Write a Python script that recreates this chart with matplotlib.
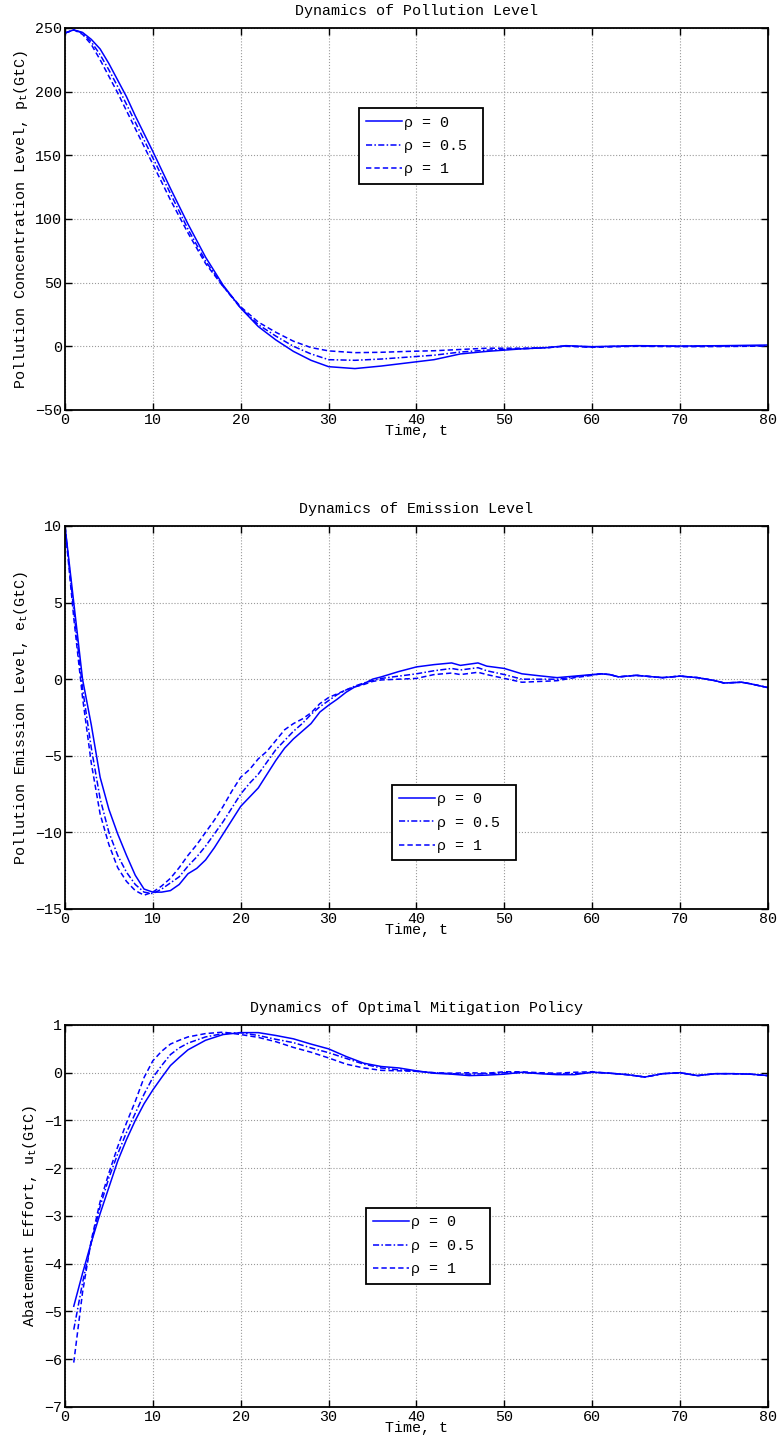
import numpy as np
import matplotlib
matplotlib.use('Agg')
import matplotlib.pyplot as plt

plt.rcParams['font.family'] = ['Liberation Mono', 'DejaVu Sans Mono']
plt.rcParams['mathtext.fontset'] = 'custom'
plt.rcParams['mathtext.rm'] = 'Liberation Mono'
plt.rcParams['mathtext.it'] = 'Liberation Mono'
plt.rcParams['font.size'] = 10.8

labels = ['ρ = 0 ', 'ρ = 0.5 ', 'ρ = 1 ']

# pollution level p_t
poll_t = [0, 1, 2, 3, 4, 5, 6, 7, 8, 9, 10, 12, 14, 16, 18, 20, 22, 24, 26, 28, 30,
          33, 36, 39, 42, 45, 48, 52, 55, 57, 60, 65, 70, 75, 80]
poll_r0 = [246, 248.5, 246.5, 241, 233.5, 222, 209, 196, 181, 167, 153, 124, 96, 70, 48, 30, 15.5, 5, -4, -11, -16,
           -17.5, -15.5, -13, -10.5, -6, -4, -2, -1, 0.5, -0.3, 0.5, 0.2, 0.5, 1]
poll_r05 = [246, 248.5, 246, 239, 229, 217, 204, 190, 176, 162, 148, 120, 92, 67, 47, 30, 17, 8, 0, -6, -10.5,
            -11, -10, -8.5, -7, -4.5, -3, -2, -1, 0.3, -0.5, 0.3, 0, 0.2, 0.5]
poll_r1 = [246, 248.5, 245, 237, 225, 212, 199, 185, 171, 157, 143, 115, 89, 65, 47, 31, 19, 11, 4, -1, -3.6,
           -5, -4.7, -4, -3.5, -2.5, -1.5, -1.5, -1, 0, -0.8, 0, -0.3, -0.2, 0.2]

# emission level e_t
emis_t = list(range(0, 37)) + [38, 40, 42, 44, 45, 47, 48, 50, 52, 54, 56, 58, 60,
                               61, 62, 63, 64, 65, 66, 68, 70, 72, 74, 75, 77, 78, 80]
emis_tail = [0.35, 0.3, 0.15, 0.2, 0.25, 0.2, 0.1, 0.2, 0.1, -0.1, -0.25, -0.2, -0.3, -0.55]
emis_r0 = [10, 5, 0, -3, -6.4, -8.5, -10.1, -11.5, -12.8, -13.7, -13.9, -13.9, -13.8, -13.4, -12.7, -12.35,
           -11.8, -11.0, -10.1, -9.2, -8.3, -7.7, -7.1, -6.2, -5.3, -4.5, -3.9, -3.4, -2.9, -2.15, -1.7,
           -1.3, -0.85, -0.5, -0.3, 0.0, 0.15,
           0.5, 0.8, 0.95, 1.06, 0.9, 1.06, 0.85, 0.7, 0.35, 0.22, 0.1, 0.2, 0.3] + emis_tail
emis_r05 = [10, 4.5, -0.6, -4.5, -7.8, -10.0, -11.5, -12.6, -13.4, -13.9, -14.0, -13.7, -13.3, -12.9, -12.2, -11.6,
            -10.9, -10.1, -9.3, -8.4, -7.5, -6.8, -6.2, -5.4, -4.6, -4.0, -3.4, -2.9, -2.3, -1.8, -1.4,
            -1.0, -0.7, -0.45, -0.25, -0.1, 0.05,
            0.2, 0.35, 0.55, 0.7, 0.6, 0.75, 0.55, 0.3, 0.0, 0.0, 0.0, 0.15, 0.28] + emis_tail
emis_r1 = [10, 4.0, -1.2, -5.5, -8.8, -10.8, -12.3, -13.2, -13.8, -14.1, -13.9, -13.5, -13.0, -12.3, -11.5, -10.8,
           -10.0, -9.2, -8.3, -7.3, -6.4, -5.9, -5.2, -4.7, -4.0, -3.3, -2.9, -2.6, -2.2, -1.6, -1.2,
           -0.95, -0.7, -0.5, -0.35, -0.15, -0.05,
           0.0, 0.05, 0.3, 0.4, 0.3, 0.45, 0.3, 0.05, -0.2, -0.15, -0.1, 0.1, 0.25] + emis_tail

# abatement effort u_t
mit_t = list(range(1, 15)) + list(range(16, 81, 2))
mit_tail = [-0.01, -0.04, -0.09, -0.02, 0.0, -0.06, -0.02, -0.02, -0.03, -0.06]
mit_r0 = [-4.89, -4.2, -3.55, -2.95, -2.4, -1.85, -1.4, -1.0, -0.65, -0.36, -0.1, 0.15, 0.32, 0.48,
          0.68, 0.8, 0.84, 0.84, 0.78, 0.71, 0.6, 0.5, 0.34, 0.2, 0.13, 0.1, 0.04, -0.01, -0.03,
          -0.06, -0.05, -0.03, 0.01, -0.02, -0.04, -0.04, 0.01] + mit_tail
mit_r05 = [-5.38, -4.4, -3.55, -2.8, -2.2, -1.7, -1.25, -0.85, -0.45, -0.1, 0.15, 0.38, 0.52, 0.62,
           0.75, 0.82, 0.84, 0.78, 0.7, 0.63, 0.52, 0.42, 0.3, 0.18, 0.1, 0.06, 0.03, 0.0, -0.02,
           -0.03, -0.02, 0.0, 0.0, -0.01, -0.03, -0.02, 0.01] + mit_tail
mit_r1 = [-6.07, -4.6, -3.5, -2.7, -2.1, -1.55, -1.05, -0.6, -0.1, 0.25, 0.45, 0.6, 0.68, 0.75,
          0.82, 0.85, 0.8, 0.74, 0.65, 0.53, 0.43, 0.31, 0.18, 0.1, 0.05, 0.04, 0.03, 0.0, -0.01,
          0.0, -0.01, 0.02, 0.02, 0.0, -0.01, 0.01, 0.02] + mit_tail


def panel(ax, t, series, title, ylabel, ylim, yticks, legend_pos):
    styles = [dict(linestyle='-'),
              dict(linestyle=(0, (4, 1.5, 1, 1.5))),
              dict(linestyle=(0, (3.5, 2)))]
    for ys, st, lab in zip(series, styles, labels):
        ax.plot(t, ys, color='#0000ff', linewidth=1.1, label=lab, **st)
    ax.set_xlim(0, 80)
    ax.set_ylim(*ylim)
    ax.set_xticks(np.arange(0, 81, 10))
    ax.set_yticks(yticks)
    ax.grid(True, linestyle=':', color='#9a9a9a', linewidth=0.8)
    ax.tick_params(direction='in', length=5, width=1, top=True, right=True, pad=2)
    for s in ax.spines.values():
        s.set_linewidth(1.3)
    ax.set_title(title, pad=9, fontsize=10.8)
    ax.set_xlabel('Time, t', labelpad=-2)
    ax.set_ylabel(ylabel, labelpad=4)
    leg = ax.legend(loc='upper left', bbox_to_anchor=legend_pos, fancybox=False, framealpha=1,
                    edgecolor='black', handlelength=2.4, handletextpad=0.1, labelspacing=0.62,
                    borderpad=0.5, borderaxespad=0)
    leg.get_frame().set_linewidth(1.3)


fig = plt.figure(figsize=(7.79, 14.41), dpi=100)
ax1 = fig.add_axes([0.0834, 0.7155, 0.9024, 0.2651])
ax2 = fig.add_axes([0.0834, 0.3692, 0.9024, 0.2658])
ax3 = fig.add_axes([0.0834, 0.0236, 0.9024, 0.2651])

panel(ax1, poll_t, [poll_r0, poll_r05, poll_r1], 'Dynamics of Pollution Level',
      r'Pollution Concentration Level, p$_\mathrm{t}$(GtC)', (-50, 250),
      np.arange(-50, 251, 50), (0.418, 0.79))
panel(ax2, emis_t, [emis_r0, emis_r05, emis_r1], 'Dynamics of Emission Level',
      r'Pollution Emission Level, e$_\mathrm{t}$(GtC)', (-15, 10),
      np.arange(-15, 11, 5), (0.465, 0.324))
panel(ax3, mit_t, [mit_r0, mit_r05, mit_r1], 'Dynamics of Optimal Mitigation Policy',
      r'Abatement Effort, u$_\mathrm{t}$(GtC)', (-7, 1),
      np.arange(-7, 2, 1), (0.428, 0.521))

fig.savefig('out.png', dpi=100)
